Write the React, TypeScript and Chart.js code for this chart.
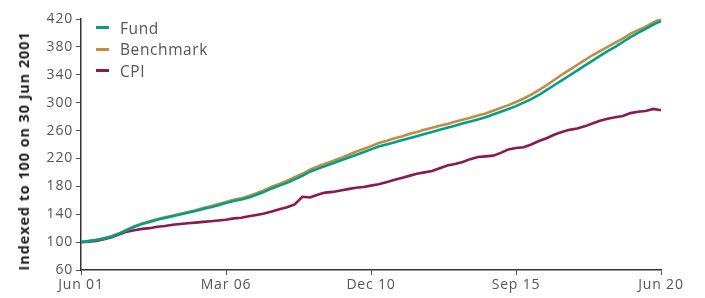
import React, { useEffect, useRef } from "react";
import { Chart, registerables } from "chart.js";

Chart.register(...registerables);

// Quarterly observations, Jun 2001 .. Jun 2020 (77 points)
const startYear = 2001;
const startMonth = 5; // June (0-based)
const monthNames = ["Jan","Feb","Mar","Apr","May","Jun","Jul","Aug","Sep","Oct","Nov","Dec"];
const tickLabels = ["Jun 01", "Mar 06", "Dec 10", "Sep 15", "Jun 20"];
const yTitle = "Indexed to 100 on 30 Jun 2001";

const fund = [
  100, 101.5, 103, 105, 108, 112, 117, 122, 126, 129,
  132, 134.5, 137, 139.5, 142, 144.5, 147.5, 150, 153, 156,
  159, 161, 164, 168, 172, 177, 181, 185, 190, 195,
  201, 205, 209, 213, 217, 221, 225, 229, 233, 237,
  240, 243, 246, 249, 252, 255, 258, 261, 264, 267,
  270, 273, 276, 279, 283, 287, 291, 295, 300, 305,
  311, 318, 325, 332, 339, 346, 353, 360, 367, 374,
  380, 387, 394, 400, 406, 412, 417,
];

const benchmark = [
  100, 101.7, 103.3, 105.4, 108.5, 112.6, 117.7, 122.8, 126.8, 130,
  133, 135.5, 138, 140.7, 143.2, 145.8, 149, 151.5, 154.6, 157.7,
  160.8, 163, 166, 170, 174.5, 179.5, 183.5, 188, 193, 198,
  204, 208.5, 212.5, 216.5, 220.5, 225, 229.5, 233.5, 237.5, 242,
  245, 248.5, 251.5, 255, 258, 261, 264, 267, 269.5, 272.5,
  275.5, 278.5, 281.5, 284.5, 288.5, 292.5, 296.5, 301, 306, 311.5,
  318, 325, 332.5, 340, 347, 354, 361, 368, 374, 380,
  386, 392, 399, 404, 409, 415, 420,
];

const cpi = [
  100, 100.5, 101.5, 104, 107, 111, 115, 117, 119, 120,
  122, 123, 125, 126, 127, 128, 129, 130, 131, 132,
  134, 135, 137, 139, 141, 144, 147, 150, 154, 165,
  164, 168, 171, 172, 174, 176, 178, 179, 181, 183,
  186, 189, 192, 195, 198, 200, 202, 206, 210, 212,
  215, 219, 222, 223, 224, 228, 233, 235, 236, 240,
  245, 249, 254, 258, 261, 263, 266, 270, 274, 277,
  279, 281, 285, 287, 288, 291, 289,
];

const categories = fund.map((_, i) => {
  const m = startMonth + i * 3;
  const y = startYear + Math.floor(m / 12);
  return monthNames[m % 12] + " " + String(y % 100).padStart(2, "0");
});

const seriesNames = ["Fund", "Benchmark", "CPI"];
const seriesColors = ["#00a088", "#c28c42", "#8c1a4d"];

const spacingPlugin = {
  id: "letterSpacing",
  beforeLayout(chart: any) { chart.ctx.letterSpacing = "0.8px"; },
  beforeDraw(chart: any) { chart.ctx.letterSpacing = "0.8px"; },
};

export default function App() {
  const ref = useRef<HTMLCanvasElement | null>(null);

  useEffect(() => {
    if (!ref.current) return;
    const font = "'Open Sans', sans-serif";
    const chart = new Chart(ref.current, {
      type: "line",
      data: {
        labels: categories,
        datasets: [fund, benchmark, cpi].map((d, i) => ({
          label: seriesNames[i],
          data: d,
          borderColor: seriesColors[i],
          backgroundColor: seriesColors[i],
          borderWidth: 2.6,
          pointRadius: 0,
          tension: 0,
        })),
      },
      plugins: [spacingPlugin],
      options: {
        animation: false,
        responsive: true,
        maintainAspectRatio: false,
        layout: { padding: { left: 0, right: 44, top: 19, bottom: 0 } },
        plugins: {
          legend: { display: false },
          tooltip: { enabled: false },
        },
        scales: {
          x: {
            type: "category",
            offset: false,
            grid: { drawOnChartArea: false, drawTicks: true, tickLength: 5, color: "#555" },
            border: { color: "#333", width: 1.5 },
            ticks: {
              autoSkip: false,
              maxRotation: 0,
              padding: 2,
              color: "#555",
              font: { family: font, size: 14 },
              callback: (_v: any, idx: number) => (idx % 19 === 0 ? tickLabels[idx / 19] : null),
            },
            afterFit: (s: any) => { s.height = 28; },
          },
          y: {
            min: 60,
            max: 420,
            grid: { drawOnChartArea: false, drawTicks: true, tickLength: 5, color: "#555" },
            border: { color: "#333", width: 1.5 },
            ticks: {
              stepSize: 40,
              padding: 3,
              color: "#555",
              font: { family: font, size: 14 },
            },
            afterFit: (s: any) => { s.width = 81; },
          },
        },
      },
    });
    return () => chart.destroy();
  }, []);

  return (
    <div style={{ position: "fixed", left: 0, top: 0, width: 705, height: 298, background: "#fff" }}>
      <canvas ref={ref} />
      <div
        style={{
          position: "absolute",
          left: 24,
          top: 151,
          transform: "translate(-50%, -50%) rotate(-90deg)",
          whiteSpace: "nowrap",
          fontFamily: "'Open Sans', sans-serif",
          fontWeight: 700,
          fontSize: 14.5,
          letterSpacing: "0.9px",
          color: "#222",
          lineHeight: "16px",
        }}
      >
        {yTitle}
      </div>
      <div style={{ position: "absolute", left: 96, top: 17, fontFamily: "'Open Sans', sans-serif", fontSize: 15.5, letterSpacing: "0.6px", color: "#555" }}>
        {seriesNames.map((n, i) => (
          <div key={n} style={{ display: "flex", alignItems: "center", height: 21.5 }}>
            <span style={{ display: "inline-block", width: 13, height: 3, background: seriesColors[i], marginRight: 11 }} />
            <span>{n}</span>
          </div>
        ))}
      </div>
    </div>
  );
}
